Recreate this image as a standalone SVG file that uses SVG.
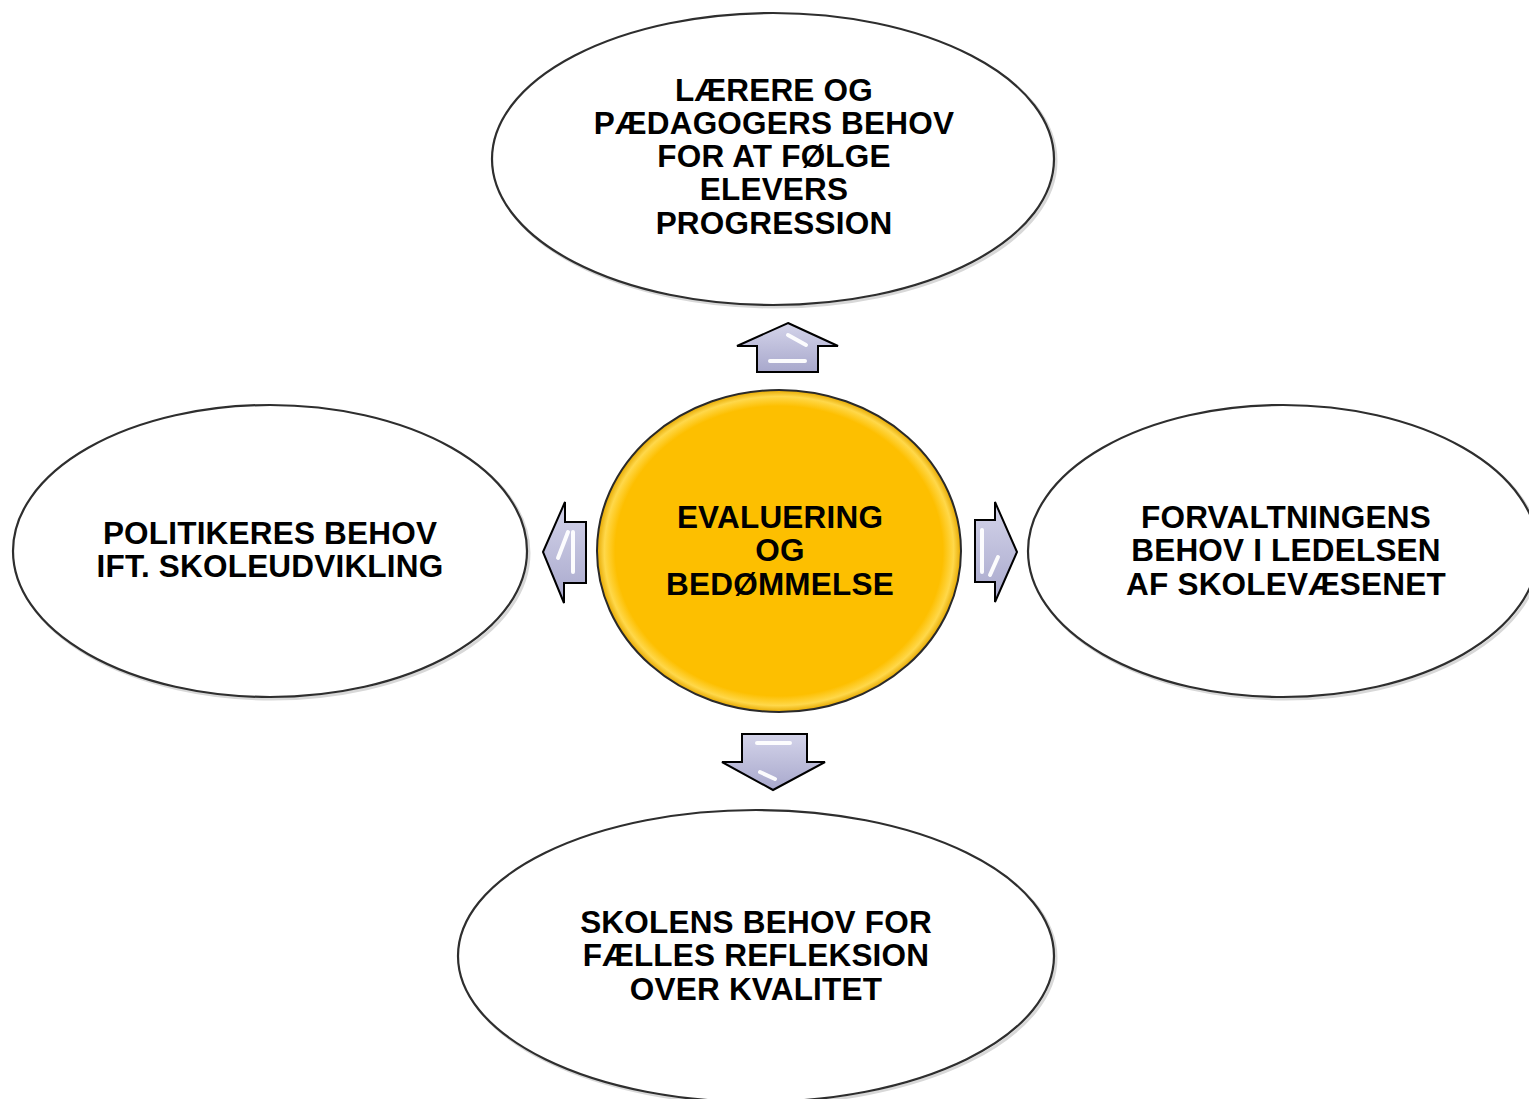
<svg xmlns="http://www.w3.org/2000/svg" width="1529" height="1099" viewBox="0 0 1529 1099">
<style>
.node{fill:#ffffff;stroke:#2e2e2e;stroke-width:2.2}
.shadow{fill:none;stroke:#d8d8d8;stroke-width:3}
.lbl{font-family:"Liberation Sans",Arial,sans-serif;font-weight:bold;font-size:31.5px;fill:#000;text-anchor:middle;letter-spacing:0.2px}
.arr{fill:url(#ag);stroke:#000;stroke-width:2;stroke-linejoin:miter}
.hl{stroke:#ffffff;stroke-width:4;stroke-linecap:round;fill:none;opacity:0.95}
</style>
<defs>
<linearGradient id="ag" x1="0" y1="0" x2="0" y2="1">
<stop offset="0" stop-color="#d4d4ea"/>
<stop offset="1" stop-color="#a8a8cc"/>
</linearGradient>
<radialGradient id="yg" cx="0.5" cy="0.5" r="0.5">
<stop offset="0.9" stop-color="#fdbf00"/>
<stop offset="0.96" stop-color="#ffd84a"/>
<stop offset="1" stop-color="#e6a800"/>
</radialGradient>
</defs>
<rect width="1529" height="1099" fill="#ffffff"/>
<g id="top-node">
<ellipse class="shadow" cx="775" cy="161" rx="281" ry="146"/>
<ellipse class="node" cx="773" cy="159" rx="281" ry="146"/>
<text class="lbl" x="774" y="101">LÆRERE OG</text>
<text class="lbl" x="774" y="134">PÆDAGOGERS BEHOV</text>
<text class="lbl" x="774" y="167">FOR AT FØLGE</text>
<text class="lbl" x="774" y="200">ELEVERS</text>
<text class="lbl" x="774" y="234">PROGRESSION</text>
</g>
<g id="left-node">
<ellipse class="shadow" cx="272" cy="553" rx="257" ry="146"/>
<ellipse class="node" cx="270" cy="551" rx="257" ry="146"/>
<text class="lbl" x="270" y="544">POLITIKERES BEHOV</text>
<text class="lbl" x="270" y="577">IFT. SKOLEUDVIKLING</text>
</g>
<g id="right-node">
<ellipse class="shadow" cx="1285" cy="553" rx="255" ry="146"/>
<ellipse class="node" cx="1283" cy="551" rx="255" ry="146"/>
<text class="lbl" x="1286" y="528">FORVALTNINGENS</text>
<text class="lbl" x="1286" y="561">BEHOV I LEDELSEN</text>
<text class="lbl" x="1286" y="595">AF SKOLEVÆSENET</text>
</g>
<g id="bottom-node">
<ellipse class="shadow" cx="758" cy="958" rx="298" ry="146"/>
<ellipse class="node" cx="756" cy="956" rx="298" ry="146"/>
<text class="lbl" x="756" y="933">SKOLENS BEHOV FOR</text>
<text class="lbl" x="756" y="966">FÆLLES REFLEKSION</text>
<text class="lbl" x="756" y="1000">OVER KVALITET</text>
</g>
<g id="center-node">
<ellipse cx="779" cy="551" rx="182" ry="161" fill="url(#yg)" stroke="#2a2a2a" stroke-width="2"/>
<text class="lbl" x="780" y="528">EVALUERING</text>
<text class="lbl" x="780" y="561">OG</text>
<text class="lbl" x="780" y="595">BEDØMMELSE</text>
</g>
<g id="connectors">
<path class="arr" d="M788 323 L838 346 L818 346 L818 372 L757 372 L757 346 L737 346 Z"/>
<path class="hl" d="M788 335 L806 345 M770 361 L805 361"/>
<path class="arr" d="M773 790 L825 762 L807 762 L807 734 L742 734 L742 762 L722 762 Z"/>
<path class="hl" d="M757 743 L790 743 M760 772 L775 779"/>
<path class="arr" d="M543 552 L565 502 L565 522 L586 522 L586 583 L564 583 L564 603 Z"/>
<path class="hl" d="M568 532 L558 558 M573 532 L573 572"/>
<path class="arr" d="M1017 552 L995 502 L995 520 L975 520 L975 582 L995 582 L995 602 Z"/>
<path class="hl" d="M982 530 L982 572 M998 557 L990 575"/>
</g>
</svg>
